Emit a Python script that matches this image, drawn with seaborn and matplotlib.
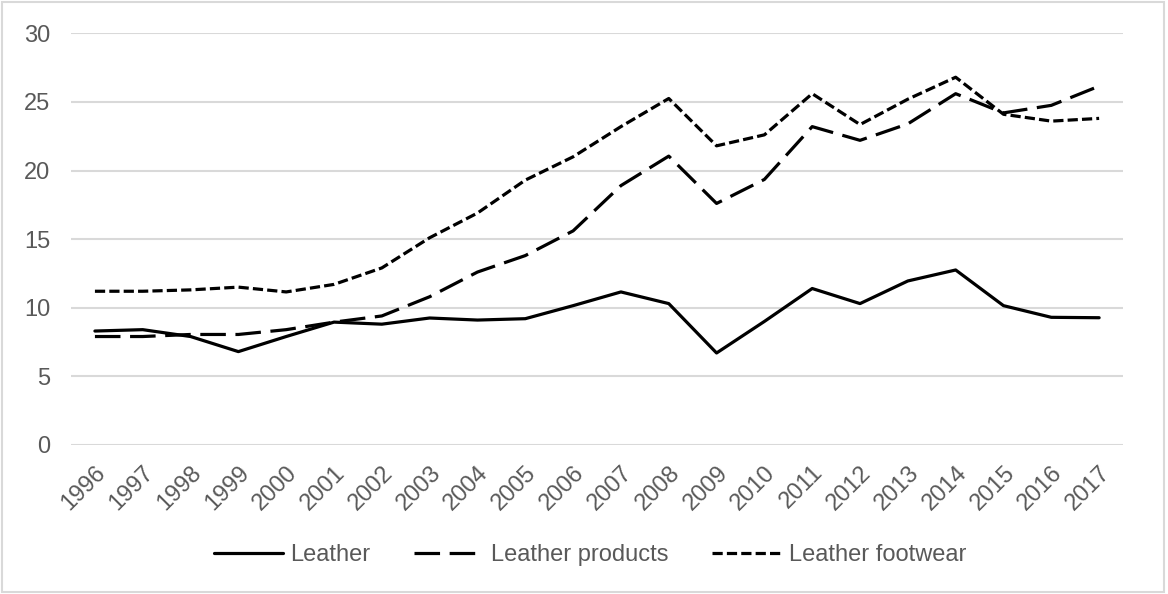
import pandas as pd
import matplotlib.pyplot as plt
import seaborn as sns
from matplotlib.patches import Rectangle

# data
years = [str(y) for y in range(1996, 2018)]
leather = [8.3, 8.4, 7.9, 6.8, 7.9, 8.95, 8.8, 9.25, 9.1, 9.2, 10.15, 11.15,
           10.3, 6.7, 9.0, 11.4, 10.3, 11.95, 12.75, 10.15, 9.3, 9.27]
leather_products = [7.9, 7.9, 8.05, 8.05, 8.4, 8.95, 9.4, 10.8, 12.6, 13.8, 15.6, 18.9,
                    21.05, 17.6, 19.35, 23.2, 22.2, 23.4, 25.6, 24.2, 24.75, 26.15]
leather_footwear = [11.2, 11.2, 11.3, 11.5, 11.15, 11.7, 12.9, 15.1, 16.9, 19.3, 21.0, 23.2,
                    25.25, 21.8, 22.6, 25.6, 23.35, 25.2, 26.8, 24.1, 23.6, 23.8]
series_names = ['Leather', 'Leather products', 'Leather footwear']

df = pd.DataFrame({'idx': list(range(len(years))) * 3,
                   'value': leather + leather_products + leather_footwear,
                   'series': [s for s in series_names for _ in years]})

sns.set_style('white')
plt.rcParams['font.family'] = ['Liberation Sans', 'DejaVu Sans']

fig = plt.figure(figsize=(11.68, 5.94), dpi=100)
ax = fig.add_axes([0.0608, 0.251, 0.9007, 0.6929])

sns.lineplot(data=df, x='idx', y='value', style='series', style_order=series_names,
             dashes={'Leather': '', 'Leather products': (8, 3), 'Leather footwear': (3.2, 1.3)},
             color='black', linewidth=2.3, ax=ax)

ax.set_xlim(-0.5, len(years) - 0.5)
ax.set_ylim(0, 30)
ax.set_yticks(range(0, 31, 5))
ax.set_xticks(range(len(years)))
ax.set_xticklabels(years, rotation=45, ha='right', rotation_mode='anchor')
ax.set_xlabel('')
ax.set_ylabel('')
ax.yaxis.grid(True, color='#d9d9d9', linewidth=1.5)
ax.set_axisbelow(True)
for side in ax.spines.values():
    side.set_visible(False)
ax.tick_params(axis='y', length=0, pad=15, labelsize=17, labelcolor='#595959')
ax.tick_params(axis='x', length=0, pad=12, labelsize=17, labelcolor='#595959')

handles, labels = ax.get_legend_handles_labels()
ax.legend(handles, labels, loc='center', bbox_to_anchor=(0.505, 0.066),
          bbox_transform=fig.transFigure, ncol=3, frameon=False, fontsize=17,
          handlelength=2.95, handletextpad=0.3, columnspacing=1.85, labelcolor='#595959')

fig.patches.append(Rectangle((0.002, 0.003), 0.995, 0.993, transform=fig.transFigure,
                             fill=False, edgecolor='#d9d9d9', linewidth=1.5))

fig.savefig('out.png', dpi=100)
